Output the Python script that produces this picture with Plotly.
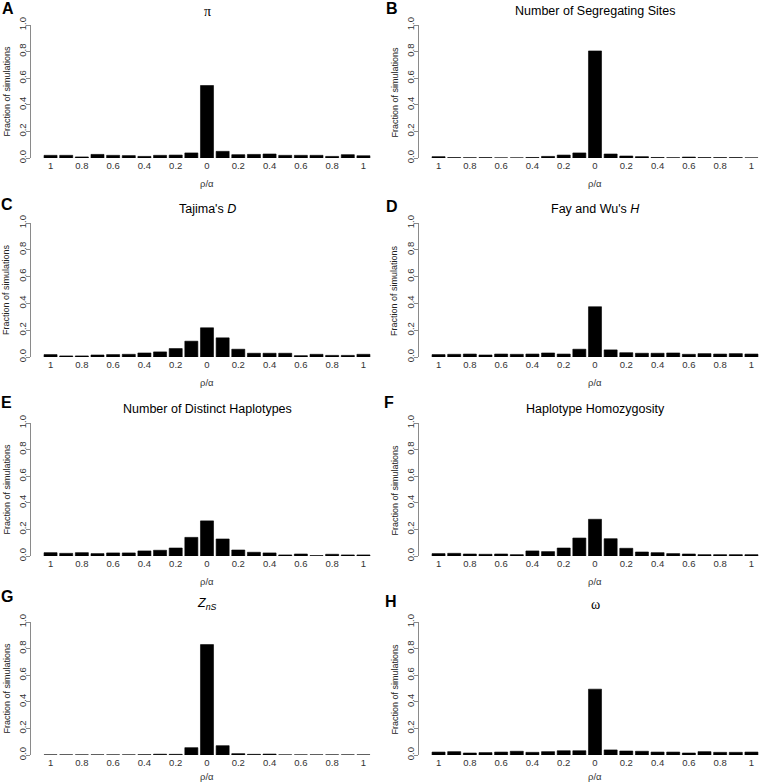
import plotly.graph_objects as go

# ---------------- data ----------------
rho_alpha = [-1.0, -0.9, -0.8, -0.7, -0.6, -0.5, -0.4, -0.3, -0.2, -0.1, 0.0,
             0.1, 0.2, 0.3, 0.4, 0.5, 0.6, 0.7, 0.8, 0.9, 1.0]
tick_vals = [-1.0, -0.8, -0.6, -0.4, -0.2, 0.0, 0.2, 0.4, 0.6, 0.8, 1.0]
tick_text = ["1", "0.8", "0.6", "0.4", "0.2", "0", "0.2", "0.4", "0.6", "0.8", "1"]
y_ticks = [0.0, 0.2, 0.4, 0.6, 0.8, 1.0]

pi_vals = [0.020, 0.020, 0.008, 0.027, 0.020, 0.018, 0.012, 0.020, 0.022, 0.038, 0.545,
           0.050, 0.025, 0.027, 0.030, 0.020, 0.020, 0.020, 0.012, 0.025, 0.017]
seg_sites = [0.010, 0.003, 0.002, 0.003, 0.001, 0.001, 0.004, 0.012, 0.022, 0.038, 0.805,
             0.030, 0.015, 0.010, 0.004, 0.002, 0.007, 0.003, 0.003, 0.003, 0.001]
tajima_d = [0.018, 0.008, 0.008, 0.015, 0.018, 0.020, 0.030, 0.038, 0.063, 0.118, 0.218,
            0.143, 0.058, 0.028, 0.028, 0.028, 0.010, 0.020, 0.012, 0.012, 0.020]
fay_wu_h = [0.018, 0.020, 0.022, 0.015, 0.022, 0.020, 0.022, 0.030, 0.022, 0.058, 0.375,
            0.053, 0.032, 0.028, 0.028, 0.030, 0.020, 0.025, 0.022, 0.025, 0.022]
distinct_hap = [0.025, 0.020, 0.025, 0.018, 0.023, 0.023, 0.038, 0.043, 0.060, 0.140, 0.264,
                0.128, 0.045, 0.028, 0.023, 0.008, 0.015, 0.003, 0.013, 0.008, 0.008]
hap_homozyg = [0.018, 0.020, 0.015, 0.013, 0.015, 0.010, 0.038, 0.033, 0.060, 0.135, 0.276,
               0.130, 0.058, 0.030, 0.025, 0.018, 0.015, 0.010, 0.010, 0.010, 0.010]
z_ns = [0.001, 0.001, 0.001, 0.001, 0.001, 0.001, 0.002, 0.006, 0.005, 0.055, 0.830,
        0.070, 0.010, 0.005, 0.007, 0.001, 0.001, 0.001, 0.001, 0.001, 0.001]
omega = [0.022, 0.025, 0.015, 0.018, 0.022, 0.028, 0.020, 0.025, 0.032, 0.032, 0.495,
         0.038, 0.030, 0.028, 0.022, 0.022, 0.015, 0.025, 0.020, 0.020, 0.022]

panel_letters = ["A", "B", "C", "D", "E", "F", "G", "H"]
panel_titles = ["π", "Number of Segregating Sites", "Tajima's <i>D</i>", "Fay and Wu's <i>H</i>",
                "Number of Distinct Haplotypes", "Haplotype Homozygosity",
                "<i>Z</i><sub><i>nS</i></sub>", "ω"]
panel_values = [pi_vals, seg_sites, tajima_d, fay_wu_h, distinct_hap, hap_homozyg, z_ns, omega]

# ---------------- geometry (pixels) ----------------
W, H = 760, 784
row_y0 = [158, 357, 556, 755]   # pixel of value 0
row_y1 = [25, 223, 423, 622]    # pixel of value 1
xtitle_y = [183, 383, 581, 776]
col_x = [(31, 383), (419, 760)]
px_per_unit = (383 - 31) / 2.25
title_y = [11, 209, 409, 604]
letter_pos = [(8, 8), (392, 8), (7, 204), (392, 206), (7, 402), (389, 402), (7, 596), (391, 601)]

def px(x):
    return x / W

def py(y):
    return 1 - y / H

fig = go.Figure()
annotations = []
font_main = "Liberation Sans, Arial, Helvetica, sans-serif"

for i, (letter, title, vals) in enumerate(zip(panel_letters, panel_titles, panel_values)):
    r, c = divmod(i, 2)
    xa = "x" if i == 0 else f"x{i+1}"
    ya = "y" if i == 0 else f"y{i+1}"
    xl, xr = col_x[c]
    fig.add_trace(go.Bar(
        x=rho_alpha, y=vals, xaxis=xa, yaxis=ya,
        marker=dict(color="black", line=dict(color="black", width=0.6)),
        showlegend=False, hoverinfo="y",
    ))
    xrange_right = -1.125 + (xr - xl) / px_per_unit
    xkey = "xaxis" if i == 0 else f"xaxis{i+1}"
    ykey = "yaxis" if i == 0 else f"yaxis{i+1}"
    fig.update_layout({
        xkey: dict(
            domain=[px(xl), px(xr)], anchor=ya, range=[-1.125, xrange_right],
            tickmode="array", tickvals=tick_vals, ticktext=tick_text,
            showline=False, showgrid=False, zeroline=False, ticks="",
            tickfont=dict(family=font_main, size=9.5, color="#333333"),
            automargin=False, fixedrange=True,
        ),
        ykey: dict(
            domain=[py(row_y0[r]), py(row_y1[r])], anchor=xa, range=[0, 1],
            tickmode="array", tickvals=y_ticks, tickformat=".1f",
            showline=True, linecolor="#8a8a8a", linewidth=1,
            ticks="outside", ticklen=4, tickcolor="#8a8a8a", tickangle=-90,
            ticklabelstandoff=-4,
            showgrid=False, zeroline=False,
            tickfont=dict(family=font_main, size=9.5, color="#333333"),
            automargin=False, fixedrange=True,
        ),
    })
    cx = (xl + (xl + 2.25 * px_per_unit)) / 2
    title_font = font_main
    if title in ("π", "ω"):
        title_font = "Liberation Serif, Times New Roman, serif"
    annotations.append(dict(
        text=title, x=px(cx), y=py(title_y[r]), xref="paper", yref="paper",
        xanchor="center", yanchor="middle", showarrow=False,
        font=dict(family=title_font, size=12.5 if title_font == font_main else 14, color="black"),
    ))
    lx, ly = letter_pos[i]
    annotations.append(dict(
        text=f"<b>{letter}</b>", x=px(lx), y=py(ly), xref="paper", yref="paper",
        xanchor="center", yanchor="middle", showarrow=False,
        font=dict(family=font_main, size=16, color="black"),
    ))
    annotations.append(dict(
        text="Fraction of simulations", x=px(xl - 25), y=py((row_y0[r] + row_y1[r]) / 2),
        xref="paper", yref="paper", xanchor="center", yanchor="middle",
        textangle=-90, showarrow=False,
        font=dict(family=font_main, size=9, color="#222222"),
    ))
    annotations.append(dict(
        text="ρ/α", x=px(cx), y=py(xtitle_y[r]), xref="paper", yref="paper",
        xanchor="center", yanchor="middle", showarrow=False,
        font=dict(family=font_main, size=9.5, color="#333333"),
    ))

fig.update_layout(
    width=W, height=H, margin=dict(l=0, r=0, t=0, b=0, autoexpand=False),
    paper_bgcolor="white", plot_bgcolor="white",
    bargap=1/6, annotations=annotations,
    font=dict(family=font_main),
)

fig.write_html(
    "out.html",
    config={"displayModeBar": False},
    post_script="document.body.style.margin='0';document.body.style.padding='0';",
)
